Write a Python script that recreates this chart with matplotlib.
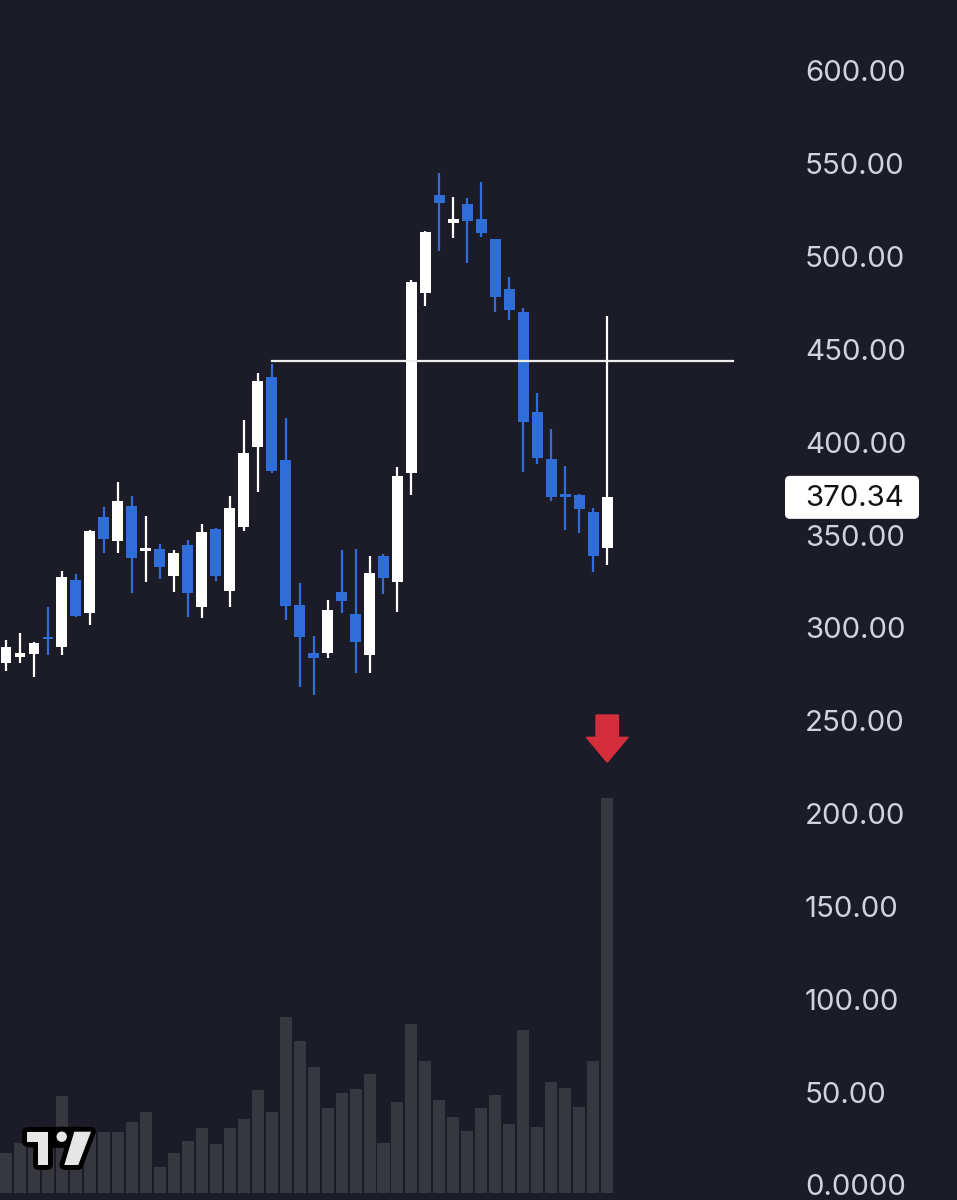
import numpy as np
import matplotlib
matplotlib.use('Agg')
import matplotlib.pyplot as plt
from matplotlib.patches import Polygon, Circle, FancyBboxPatch

#Data ======================================================================
opens = [281.1, 284.2, 286.0, 295.3, 289.6, 325.8, 307.9, 359.6, 347.0, 365.7,
         341.6, 342.4, 328.2, 344.7, 311.1, 353.2, 319.9, 354.6, 397.6, 435.0,
         390.5, 312.4, 286.7, 286.4, 319.2, 307.5, 285.5, 338.9, 324.6, 383.3,
         480.3, 533.2, 518.0, 528.2, 520.1, 509.5, 482.6, 470.0, 416.5, 390.9,
         372.0, 371.5, 362.6, 343.3]
highs = [293.6, 297.1, 292.6, 311.5, 330.7, 329.1, 352.8, 365.3, 378.6, 371.1,
         360.5, 345.2, 342.0, 347.2, 356.0, 353.6, 371.1, 412.0, 437.2, 441.9,
         412.9, 324.4, 295.7, 315.1, 342.0, 342.4, 338.8, 339.8, 386.5, 487.4,
         513.8, 544.9, 532.0, 531.8, 540.4, 509.5, 489.2, 472.2, 426.7, 407.0,
         387.2, 372.2, 364.5, 468.0]
lows = [276.6, 281.0, 273.8, 285.5, 285.5, 306.0, 301.6, 340.6, 340.2, 318.7,
        324.9, 326.4, 319.2, 306.1, 305.6, 325.3, 311.5, 352.2, 373.4, 383.3,
        304.3, 268.4, 263.9, 283.7, 307.9, 275.6, 275.6, 318.3, 308.8, 371.6,
        473.6, 503.2, 510.2, 496.4, 510.7, 470.4, 465.9, 383.8, 388.3, 368.6,
        352.8, 351.3, 330.3, 333.9]
closes = [290.0, 286.4, 291.8, 293.9, 327.3, 306.6, 352.2, 347.9, 368.6, 337.9,
          342.9, 333.0, 340.2, 318.7, 351.5, 328.2, 364.5, 394.1, 433.2, 384.6,
          312.0, 295.3, 283.7, 309.7, 314.7, 292.6, 329.5, 326.8, 381.9, 486.5,
          513.1, 528.7, 520.3, 519.4, 512.6, 478.4, 471.3, 411.1, 391.7, 370.4,
          370.7, 363.9, 338.8, 370.34]
volume = [40, 50, 45, 55, 97, 55, 60, 61, 61, 71, 81, 26, 40, 52, 65, 49, 65, 74,
          103, 81, 176, 152, 126, 85, 100, 104, 119, 50, 91, 169, 132, 93, 76, 62,
          85, 98, 69, 163, 66, 111, 105, 86, 132, 395]
price_ticks = [0, 50, 100, 150, 200, 250, 300, 350, 400, 450, 500, 550, 600]
tick_labels = ['0.0000', '50.00', '100.00', '150.00', '200.00', '250.00', '300.00',
               '350.00', '400.00', '450.00', '500.00', '550.00', '600.00']
level = 444.0        # horizontal line
level_from = 19
level_to = 52
last_label = '370.34'

#Style =====================================================================
bg = '#1c1c28'
blue = '#2f6ed8'
white = '#ffffff'
vol_col = '#37373f'
txt_col = '#d1d3db'
plt.rcParams['font.family'] = ['Inter', 'DejaVu Sans']

W, H = 957, 1200
fig = plt.figure(figsize=(W / 100, H / 100), dpi=100, facecolor=bg)

#volume axes (behind)
axv = fig.add_axes([0, 0, 1, 1])
axv.set_facecolor(bg)
x = np.arange(len(closes))
axv.bar(x, volume, width=0.86, color=vol_col, zorder=1)
axv.set_xlim(-0.43, 68.02)
axv.set_ylim(-7, 1193)
axv.axis('off')

#price axes
ax = fig.add_axes([0, 0, 1, 1], sharex=axv)
ax.patch.set_visible(False)
ax.set_ylim(-8.08, 638.2)
for s in ax.spines.values():
    s.set_visible(False)
ax.tick_params(axis='x', bottom=False, labelbottom=False)
ax.yaxis.tick_right()
ax.set_yticks(price_ticks)
ax.set_yticklabels(tick_labels)
ax.tick_params(axis='y', length=0, pad=-109.5, labelsize=21.2, labelcolor=txt_col)

#candles
o = np.array(opens); c = np.array(closes)
up = c >= o
cols = np.where(up, white, blue)
body_lo = np.minimum(o, c)
body_h = np.maximum(np.abs(c - o), 1.0)
ax.vlines(x, lows, highs, colors=cols, linewidth=1.6, zorder=3)
ax.bar(x, body_h, bottom=body_lo, width=0.78, color=cols, zorder=4)

#horizontal level
ax.plot([level_from, level_to], [level, level], color='#eeeeee', linewidth=1.6, zorder=5)

#red arrow above the last volume bar
xa = x[-1]
arrow = [(xa - 0.8, 253.1), (xa + 0.8, 253.1), (xa + 0.8, 241.1), (xa + 1.49, 241.1),
         (xa, 227.7), (xa - 1.49, 241.1), (xa - 0.8, 241.1)]
ax.add_patch(Polygon(arrow, closed=True, color='#d42e3c', zorder=6))

#overlay in pixels for the price tag and the logo
ov = fig.add_axes([0, 0, 1, 1])
ov.set_xlim(0, W)
ov.set_ylim(H, 0)
ov.axis('off')
ov.patch.set_visible(False)

fig.canvas.draw()
y_last = H - ax.transData.transform((0, closes[-1]))[1]
ov.add_patch(FancyBboxPatch((785, y_last - 21.5), 134, 43,
                            boxstyle='round,pad=0,rounding_size=5',
                            fc='white', ec='none', zorder=7))
ov.text(855, y_last + 1, last_label, ha='center', va='center',
        fontsize=21.2, color='#111111', zorder=8)

#logo
lw_out = 7
logo_col = '#e6e6e6'
t_shape = [(26.7, 1131.7), (48.3, 1131.7), (48.3, 1165), (38.3, 1165),
           (38.3, 1141.7), (26.7, 1141.7)]
slant = [(74.3, 1131.7), (91, 1131.7), (78.3, 1165), (64.3, 1165)]
for shp in (t_shape, slant):
    ov.add_patch(Polygon(shp, closed=True, fc='#000000', ec='#000000',
                         linewidth=lw_out, joinstyle='round', zorder=9))
ov.add_patch(Circle((61.7, 1136.7), 5.2, fc='#000000', ec='#000000',
                    linewidth=lw_out, zorder=9))
ov.add_patch(Polygon([(48, 1131.7), (74.5, 1131.7), (70, 1143), (48, 1143)],
                     closed=True, fc='#000000', ec='#000000', linewidth=lw_out, zorder=9))
for shp in (t_shape, slant):
    ov.add_patch(Polygon(shp, closed=True, fc=logo_col, ec='none', zorder=10))
ov.add_patch(Circle((61.7, 1136.7), 5.2, fc=logo_col, ec='none', zorder=10))

fig.savefig('out.png', dpi=100, facecolor=bg)
